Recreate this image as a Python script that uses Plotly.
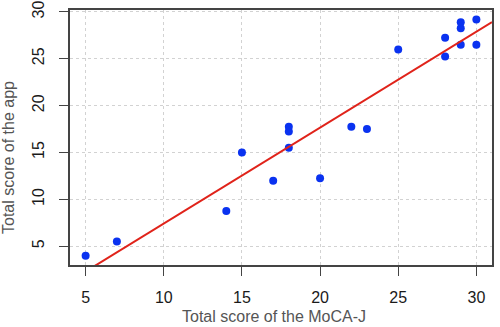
import plotly.graph_objects as go

# Data
moca_scores = [5, 7, 14, 15, 17, 18, 18, 18, 20, 22, 23, 25, 28, 28, 29, 29, 29, 30, 30]
app_scores = [4.0, 5.5, 8.75, 15.0, 12.0, 15.5, 17.25, 17.75, 12.25, 17.75, 17.5, 26.0,
              25.25, 27.25, 26.5, 28.25, 28.9, 26.5, 29.2]
fit_intercept = -2.81
fit_slope = 1.023
x_ticks = [5, 10, 15, 20, 25, 30]
y_ticks = [5, 10, 15, 20, 25, 30]
x_range = [4, 31]
y_range = [3.0, 30.2]
x_title = "Total score of the MoCA-J"
y_title = "Total score of the app"

line_x = [x_range[0], x_range[1]]
line_y = [fit_intercept + fit_slope * v for v in line_x]

font_family = "Liberation Sans, Arial, sans-serif"

W, H = 500, 327
ML, MR, MT, MB = 70, 8, 10, 62

fig = go.Figure()
fig.add_trace(go.Scatter(
    x=moca_scores, y=app_scores, mode="markers",
    marker=dict(color="#0a32f0", size=8, line=dict(width=0)),
    showlegend=False, cliponaxis=False,
))
fig.add_trace(go.Scatter(
    x=line_x, y=line_y, mode="lines",
    line=dict(color="#e0231a", width=2),
    showlegend=False,
))

axis_common = dict(
    showline=True, mirror=True, linecolor="#444444", linewidth=1.5,
    ticks="outside", ticklen=9, tickwidth=1, tickcolor="#444444",
    showgrid=True, gridcolor="#d2d2d2", griddash="dot", gridwidth=1,
    zeroline=False, automargin=False,
    tickfont=dict(size=16, color="#1a1a1a", family=font_family),
)

fig.update_xaxes(
    range=x_range, tickvals=x_ticks, ticktext=[str(v) for v in x_ticks],
    ticklabelstandoff=8,
    **axis_common,
)
fig.update_yaxes(
    range=y_range, tickvals=y_ticks, ticktext=[str(v) for v in y_ticks], tickangle=-90,
    ticklabelstandoff=9,
    **axis_common,
)

title_font = dict(size=16, color="#555555", family=font_family)
fig.add_annotation(
    text=x_title, xref="paper", yref="paper",
    x=(274 - ML) / (W - ML - MR), y=-(316 - (H - MB)) / (H - MT - MB),
    xanchor="center", yanchor="middle", showarrow=False, font=title_font,
)
fig.add_annotation(
    text=y_title, xref="paper", yref="paper", textangle=-90,
    x=-(ML - 9) / (W - ML - MR), y=((H - MB) - 158) / (H - MT - MB),
    xanchor="center", yanchor="middle", showarrow=False, font=title_font,
)

fig.update_layout(
    width=W, height=H,
    margin=dict(l=ML, r=MR, t=MT, b=MB),
    plot_bgcolor="white", paper_bgcolor="white",
    font=dict(family=font_family, color="#333333"),
)

fig.write_html(
    "out.html",
    config={"displayModeBar": False},
    post_script="document.body.style.margin='0';document.body.style.overflow='hidden';",
)
